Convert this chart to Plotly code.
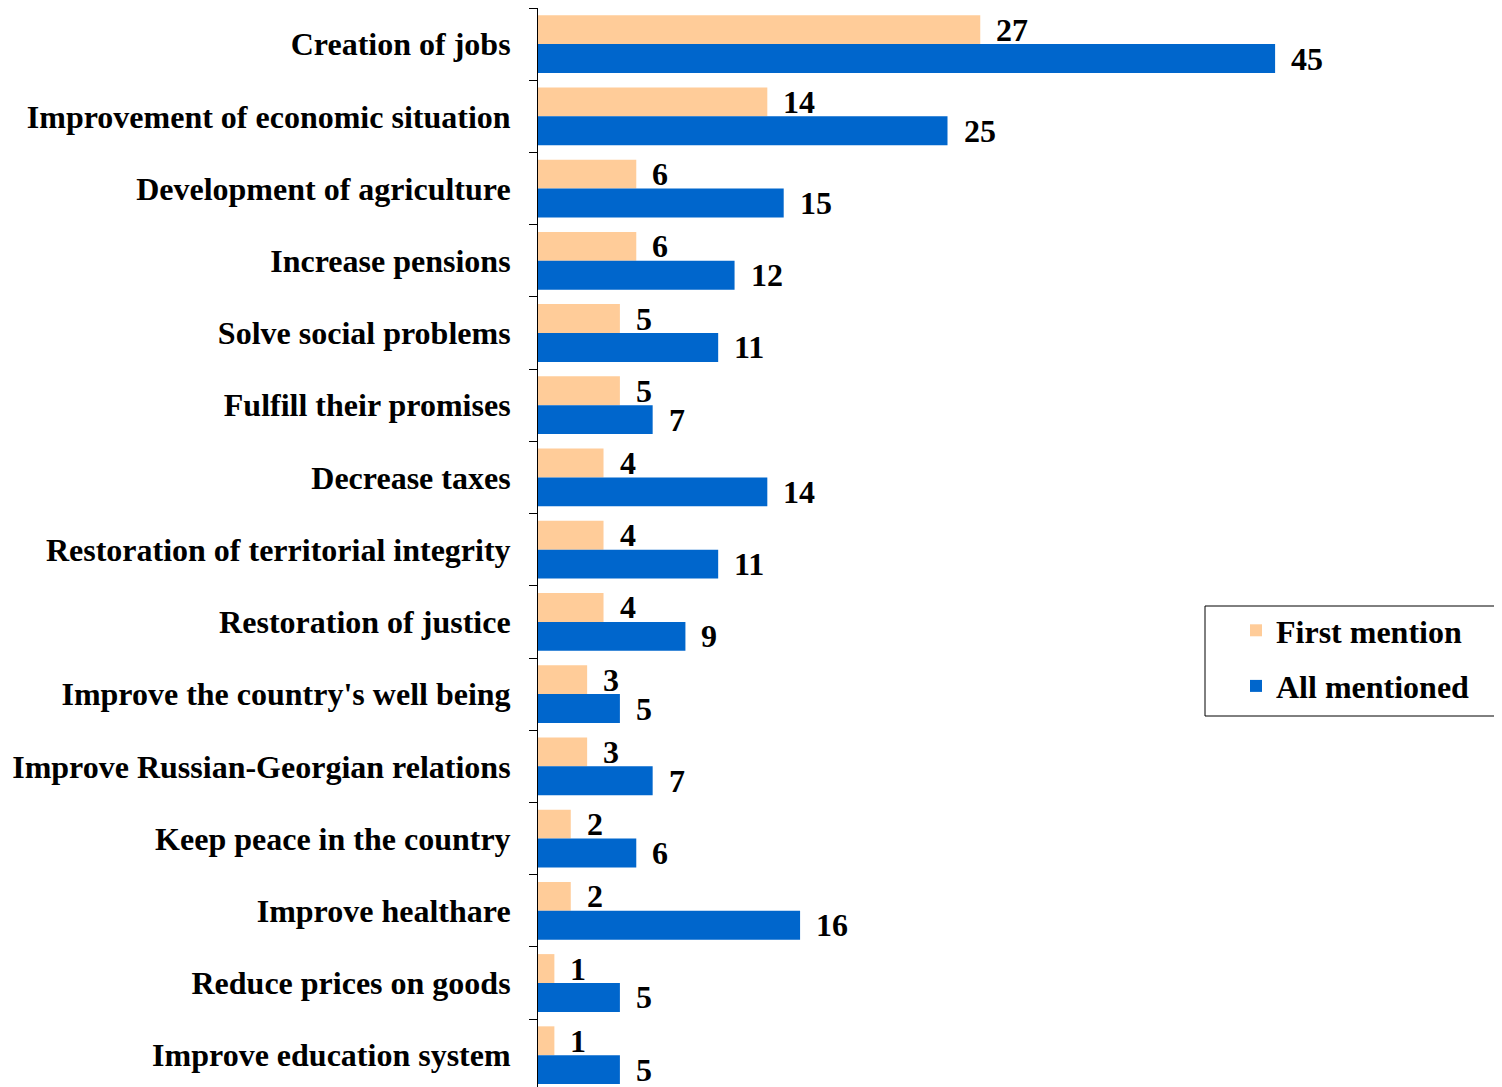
import plotly.graph_objects as go

categories = [
    "Creation of jobs",
    "Improvement of economic situation",
    "Development of agriculture",
    "Increase pensions",
    "Solve social problems",
    "Fulfill their promises",
    "Decrease taxes",
    "Restoration of territorial integrity",
    "Restoration of justice",
    "Improve the country's well being",
    "Improve Russian-Georgian relations",
    "Keep peace in the country",
    "Improve healthare",
    "Reduce prices on goods",
    "Improve education system",
]
first_mention = [27, 14, 6, 6, 5, 5, 4, 4, 4, 3, 3, 2, 2, 1, 1]
all_mentioned = [45, 25, 15, 12, 11, 7, 14, 11, 9, 5, 7, 6, 16, 5, 5]

FONT = "Liberation Serif"
ORANGE = "#FFCC99"
BLUE = "#0066CC"

OFF = 8  # page body margin
W, H = 1502 - OFF, 1087 - OFF
L, T = 538 - OFF, 8 - OFF
PW, PH = W - L, H - T

def px_x(p):
    return (p - OFF - L) / PW

def px_y(p):
    return 1 - (p - OFF - T) / PH

fig = go.Figure()
fig.add_trace(go.Bar(
    y=categories, x=first_mention, orientation="h", name="First mention",
    marker=dict(color=ORANGE, line=dict(width=0)), legendgroup="a",
))
fig.add_trace(go.Bar(
    y=categories, x=all_mentioned, orientation="h", name="All mentioned",
    marker=dict(color=BLUE, line=dict(width=0)), legendgroup="b",
))

annotations = []
for i, (f, a) in enumerate(zip(first_mention, all_mentioned)):
    for val, off in ((f, -0.2), (a, 0.2)):
        annotations.append(dict(
            x=val, y=i + off, xref="x", yref="y", text=f"<b>{val}</b>",
            showarrow=False, xanchor="left", yanchor="middle", xshift=14,
            font=dict(family=FONT, size=32, color="black"),
        ))

fig.update_layout(
    width=W, height=H,
    margin=dict(l=L, r=0, t=T, b=0, autoexpand=False),
    paper_bgcolor="white", plot_bgcolor="white",
    barmode="group", bargap=0.2, bargroupgap=0,
    font=dict(family=FONT, size=32, color="black"),
    annotations=annotations,
    showlegend=True,
    shapes=[dict(
        type="rect", xref="paper", yref="paper",
        x0=px_x(1205), x1=px_x(1501), y0=px_y(716), y1=px_y(606),
        line=dict(color="black", width=1), fillcolor="rgba(0,0,0,0)", layer="above",
    )],
    legend=dict(
        x=px_x(1236), y=px_y(603),
        xanchor="left", yanchor="top",
        borderwidth=0, bgcolor="rgba(0,0,0,0)",
        font=dict(family=FONT, size=32, color="black", weight="bold"),
        traceorder="grouped", tracegroupgap=11,
    ),
    xaxis=dict(range=[0, PW / 16.38], visible=False, showgrid=False, zeroline=False),
    yaxis=dict(
        autorange=False, range=[14.44, -0.5], automargin=False,
        type="category", categoryorder="array", categoryarray=categories,
        showline=True, linecolor="black", linewidth=1,
        ticks="outside", ticklen=8, tickcolor="black", tickson="boundaries",
        showgrid=False, ticklabelstandoff=20,
        tickfont=dict(family=FONT, size=32, color="black", weight="bold"),
    ),
)
fig.write_html("out.html")
